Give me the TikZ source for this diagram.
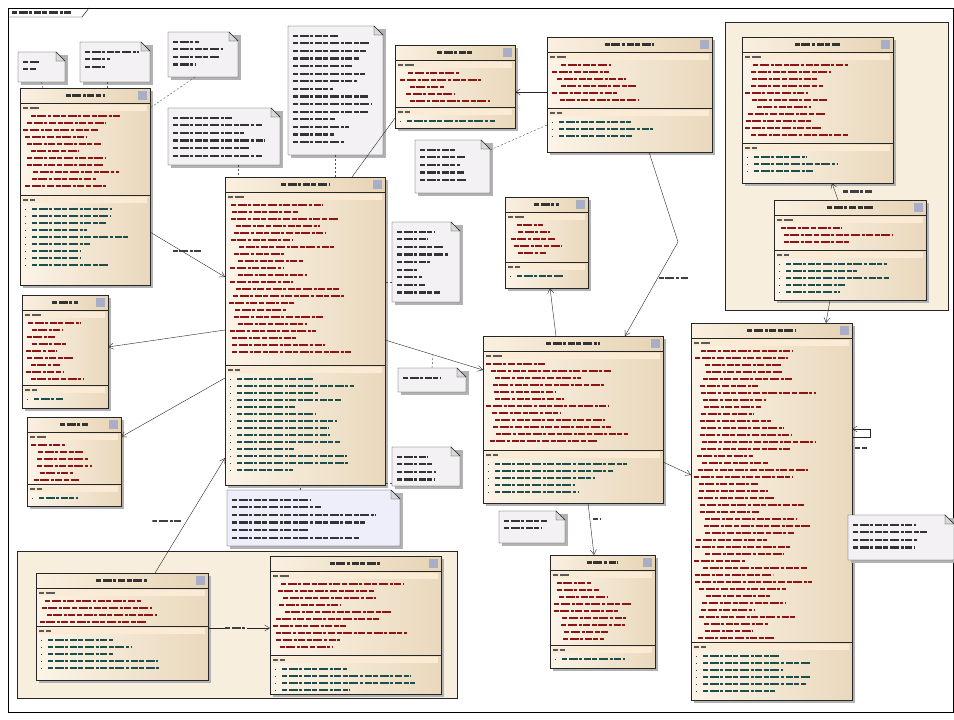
\documentclass[tikz,border=0pt]{standalone}
\usetikzlibrary{arrows.meta}

\definecolor{clsLeft}{HTML}{FCF4E8}
\definecolor{clsRight}{HTML}{E9D8BC}
\definecolor{hdLeft}{HTML}{FAF0E0}
\definecolor{hdRight}{HTML}{E6D3B4}
\definecolor{stripCol}{HTML}{FBEBD4}
\definecolor{attrCol}{HTML}{8E1414}
\definecolor{opCol}{HTML}{1D4E4A}
\definecolor{noteCol}{HTML}{F4F1F5}
\definecolor{noteBlue}{HTML}{EEEEFB}
\definecolor{pkgCol}{HTML}{F8EEDD}
\definecolor{iconCol}{HTML}{A9AEC8}

\tikzset{
  wordline/.style={line width=2.1pt,
    dash pattern=on 5pt off 1.6pt on 9pt off 1.6pt on 3pt off 1.6pt on 7pt off 1.6pt}}

%% one class box: name, x1, y1, x2, y2, divider y, attribute lines, operation lines
\newcommand{\umlclass}[8]{%
  \fill[black!30] (#2+3,#3+3) rectangle (#4+3,#5+3);
  \node[classbox, minimum width={(#4-#2)*1pt}, minimum height={(#5-#3)*1pt}]
    (#1) at ({(#2+#4)/2},{(#3+#5)/2}) {};
  \draw[classhead] (#2,#3) rectangle (#4,#3+15);
  \draw[wordline, black!80] ({(#2+#4)/2-(#4-#2)*0.15},#3+7.5) -- ({(#2+#4)/2+(#4-#2)*0.15},#3+7.5);
  \fill[iconCol] (#4-12,#3+3) rectangle (#4-3,#3+12);
  \draw[black!85] (#2,#6) -- (#4,#6);
  \fill[stripCol] (#2+2,#3+17) rectangle (#4-3,#3+23);
  \draw[wordline, black!65] (#2+3,#3+20) -- ++(16,0);
  \foreach \i in {1,...,#7}{
    \pgfmathsetmacro\gind{3+12*rnd}
    \pgfmathsetmacro\glen{(#4-#2-\gind-10)*(0.35+0.5*rnd)}
    \draw[wordline, attrCol] (#2+\gind,#3+21.2+7*\i) -- ++(\glen,0);
  }
  \fill[stripCol] (#2+2,#6+2) rectangle (#4-3,#6+8);
  \draw[wordline, black!65] (#2+3,#6+5) -- ++(12,0);
  \foreach \i in {1,...,#8}{
    \pgfmathsetmacro\glen{(#4-#2-20)*(0.4+0.5*rnd)}
    \fill[opCol] (#2+4.5,#6+6.5+7*\i) rectangle ++(1.8,1.8);
    \draw[wordline, opCol] (#2+12,#6+7.2+7*\i) -- ++(\glen,0);
  }
}

%% one note: name, x1, y1, x2, y2, text lines, fill
\newcommand{\umlnote}[7]{%
  \fill[black!30] (#2+3,#3+3) rectangle (#4+3,#5+3);
  \node[inner sep=0pt, outer sep=0pt, minimum width={(#4-#2)*1pt}, minimum height={(#5-#3)*1pt}]
    (#1) at ({(#2+#4)/2},{(#3+#5)/2}) {};
  \filldraw[notebox, fill=#7] (#2,#3) -- (#4-9,#3) -- (#4,#3+9) -- (#4,#5) -- (#2,#5) -- cycle;
  \filldraw[notebox, fill=black!15] (#4-9,#3) -- (#4-9,#3+9) -- (#4,#3+9) -- cycle;
  \foreach \i in {1,...,#6}{
    \pgfmathsetmacro\glen{(#4-#2-16)*(0.4+0.6*rnd)}
    \draw[wordline, black!80] (#2+5,#3+2.1+7.6*\i) -- ++(\glen,0);
  }
}

\begin{document}
\begin{tikzpicture}
[x=1pt, y=-1pt,
  classbox/.style={draw=black!85, left color=clsLeft, right color=clsRight, inner sep=0pt, outer sep=0pt},
  classhead/.style={draw=black!85, left color=hdLeft, right color=hdRight},
  notebox/.style={draw=black!85},
  pkgbox/.style={draw=black!85, fill=pkgCol, inner sep=0pt, outer sep=0pt},
  assoc/.style={draw=black!85, -{Straight Barb[length=5pt,width=6pt]}},
  plainlink/.style={draw=black!85},
  notelink/.style={draw=black!70, dash pattern=on 2pt off 2pt},
  lbl/.style={inner sep=0pt, minimum width=30pt, minimum height=2.2pt,
    path picture={\draw[wordline, black!75, -] (path picture bounding box.west)
      -- (path picture bounding box.east);}}]
\useasboundingbox (0,0) rectangle (954,720);
\pgfmathsetseed{11}

%% frame
\draw[line width=1pt] (8,8) rectangle (953,712);
\draw (8,17) -- (82,17) -- (89,8);
\draw[wordline, black!80] (12,12.5) -- (72,12.5);

%% packages
\node[pkgbox, minimum width=223pt, minimum height=288pt] (pkgTopRight) at (836.5,166) {};
\node[pkgbox, minimum width=440pt, minimum height=147pt] (pkgBottom) at (237,624.5) {};

%% classes
\umlclass{clsLeftTop}{20}{88}{150}{285}{195}{11}{9}
\umlclass{clsLeftMid}{22}{295}{108}{408}{385}{9}{1}
\umlclass{clsLeftLow}{27}{417}{121}{506}{484}{6}{1}
\umlclass{clsCentre}{225}{177}{385}{485}{365}{22}{14}
\umlclass{clsTopMid}{395}{45}{515}{128}{107}{5}{1}
\umlclass{clsSensor}{547}{37}{712}{152}{108}{6}{3}
\umlclass{clsSmall}{505}{197}{588}{288}{262}{5}{1}
\umlclass{clsMiddle}{483}{336}{663}{503}{450}{12}{5}
\umlclass{clsBottom}{550}{555}{655}{668}{645}{9}{1}
\umlclass{clsRight}{691}{323}{852}{700}{642}{42}{6}
\umlclass{clsPkgTop}{742}{37}{893}{183}{143}{11}{3}
\umlclass{clsPkgLow}{774}{200}{926}{300}{250}{3}{5}
\umlclass{clsBotA}{36}{573}{208}{680}{626}{4}{5}
\umlclass{clsBotB}{270}{556}{441}{694}{655}{10}{4}

%% notes
\foreach \notename/\xa/\ya/\xb/\yb/\n/\col in {
  noteA/18/52/65/82/2/noteCol, noteB/80/42/150/82/3/noteCol,
  noteC/168/32/238/77/4/noteCol, noteD/288/26/383/155/15/noteCol,
  noteE/168/108/280/165/6/noteCol, noteF/415/140/490/193/5/noteCol,
  noteG/392/222/460/302/9/noteCol, noteH/398/368/466/392/1/noteCol,
  noteI/392/447/460/486/4/noteCol, noteJ/227/490/400/546/6/noteBlue,
  noteK/499/511/565/543/2/noteCol, noteL/848/515/954/560/4/noteCol}
{
  \umlnote{\notename}{\xa}{\ya}{\xb}{\yb}{\n}{\col}
}

%% associations
\draw[assoc] ([shift={(0,144)}]clsLeftTop.north east)
  -- node[lbl, pos=0.5, above=2pt] {} ([shift={(0,100)}]clsCentre.north west);
\draw[assoc] ([shift={(0,153)}]clsCentre.north west) -- ([shift={(0,52)}]clsLeftMid.north east);
\draw[assoc] ([shift={(0,201)}]clsCentre.north west) -- ([shift={(0,20)}]clsLeftLow.north east);
\draw[assoc] ([shift={(119,0)}]clsBotA.north west)
  -- node[lbl, pos=0.45, left=4pt] {} ([shift={(0,281)}]clsCentre.north west);
\draw[assoc] ([shift={(0,163)}]clsCentre.north east)
  -- coordinate[pos=0.49] (linkMid) ([shift={(0,34)}]clsMiddle.north west);
\draw[plainlink] ([shift={(0,73)}]clsTopMid.north west) -- ([shift={(127,0)}]clsCentre.north west);
\draw[assoc] ([shift={(0,55)}]clsSensor.north west) -- ([shift={(0,47)}]clsTopMid.north east);
\draw[assoc] ([shift={(102,0)}]clsSensor.south west) -- ++(29,90)
  -- node[lbl, pos=0.38, xshift=16pt] {} ([shift={(142,0)}]clsMiddle.north west);
\draw[assoc] ([shift={(73,0)}]clsMiddle.north west) -- ([shift={(45,0)}]clsSmall.south west);
\draw[assoc] ([shift={(105,0)}]clsMiddle.south west)
  -- node[lbl, minimum width=8pt, pos=0.3, right=3pt] {} ([shift={(44,0)}]clsBottom.north west);
\draw[assoc] ([shift={(0,126)}]clsMiddle.north east) -- ([shift={(0,152)}]clsRight.north west);
\draw[assoc] ([shift={(56,0)}]clsPkgLow.south west) -- ([shift={(135,0)}]clsRight.north west);
\draw[assoc] ([shift={(64,0)}]clsPkgLow.north west)
  -- node[lbl, pos=0.5, right=8pt] {} ([shift={(90,0)}]clsPkgTop.south west);
\draw[assoc] ([shift={(0,114)}]clsRight.north east) -- ++(18,0) -- ++(0,-8)
  -- node[lbl, minimum width=12pt, pos=0.5, below=18pt] {} ([shift={(0,106)}]clsRight.north east);
\draw[assoc] ([shift={(0,55)}]clsBotA.north east)
  -- node[lbl, minimum width=22pt, pos=0.45, fill=pkgCol] {} ([shift={(0,72)}]clsBotB.north west);

%% note links
\draw[notelink] (noteA.south) -- ([shift={(23,0)}]clsLeftTop.north west);
\draw[notelink] ([shift={(27,0)}]noteB.south west) -- ([shift={(87,0)}]clsLeftTop.north west);
\draw[notelink] ([shift={(27,0)}]noteC.south west) -- ([shift={(0,20)}]clsLeftTop.north east);
\draw[notelink] ([shift={(47,0)}]noteD.south west) -- ([shift={(110,0)}]clsCentre.north west);
\draw[notelink] ([shift={(70,0)}]noteE.south west) -- ([shift={(13,0)}]clsCentre.north west);
\draw[notelink] ([shift={(0,10)}]noteF.north east) -- ([shift={(0,88)}]clsSensor.north west);
\draw[notelink] ([shift={(0,60)}]noteG.north west) -- ([shift={(0,105)}]clsCentre.north east);
\draw[notelink] (noteH.north) -- (linkMid);
\draw[notelink] ([shift={(0,-3)}]noteI.south west) -- ([shift={(0,-2)}]clsCentre.south east);
\draw[notelink] ([shift={(73,0)}]noteJ.north west) -- ([shift={(75,0)}]clsCentre.south west);
\end{tikzpicture}
\end{document}
